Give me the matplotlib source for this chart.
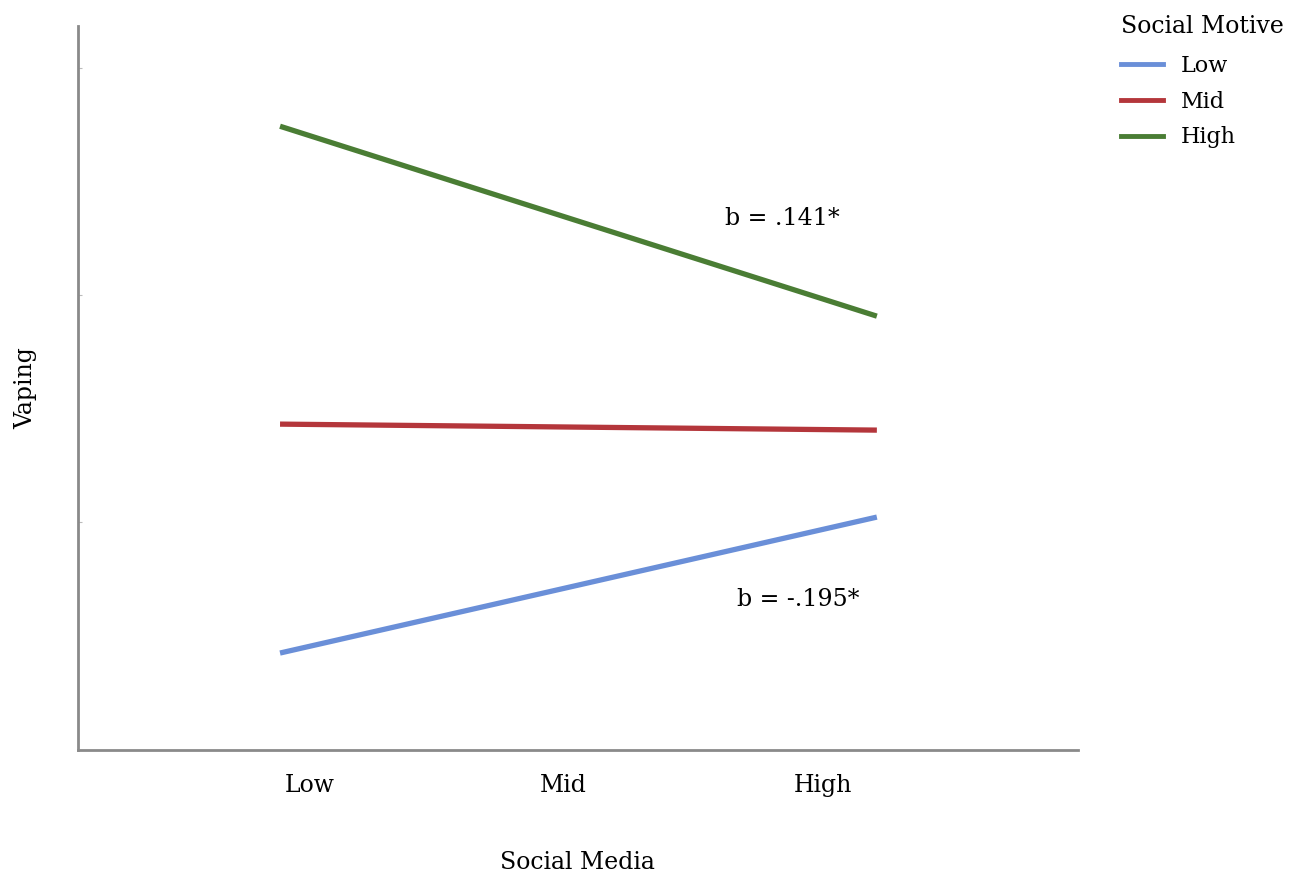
import matplotlib.pyplot as plt
from matplotlib.lines import Line2D

plt.rcParams['font.family'] = ['DejaVu Serif']

# data
motive_levels = ['Low', 'Mid', 'High']
media_x = [0, 2]  # low and high social media
vaping_low = [0.97, 2.33]
vaping_mid = [3.26, 3.20]
vaping_high = [6.24, 4.34]
colors = ['#6a8fd8', '#b4363b', '#4a7d34']

tick_pos = [0.10, 0.95, 1.82]
tick_labels = ['Low', 'Mid', 'High']

fig = plt.figure(figsize=(13, 8.73), dpi=100)
ax = fig.add_axes([0.06, 0.1409, 0.769, 0.829])

for ys, c in zip([vaping_low, vaping_mid, vaping_high], colors):
    ax.plot(media_x, ys, color=c, lw=3.8, solid_capstyle='butt')

ax.set_xlim(-0.677, 2.673)
ax.set_ylim(0, 7.24)

for s in ['top', 'right']:
    ax.spines[s].set_visible(False)
for s in ['left', 'bottom']:
    ax.spines[s].set_color('#8a8a8a')
    ax.spines[s].set_linewidth(2)

ax.set_xticks(tick_pos)
ax.set_xticklabels(tick_labels, fontsize=17)
ax.tick_params(axis='x', length=0, pad=17)
ax.set_yticks([2.28, 4.55, 6.82])
ax.set_yticklabels([])
ax.tick_params(axis='y', length=3, direction='in', color='#bbbbbb')

ax.set_xlabel('Social Media', fontsize=17, labelpad=39)
ax.set_ylabel('Vaping', fontsize=17, labelpad=26)

ax.text(1.49, 5.25, 'b = .141*', fontsize=17)
ax.text(1.53, 1.44, 'b = -.195*', fontsize=17)

handles = [Line2D([0], [0], color=c, lw=3.5) for c in colors]
leg = fig.legend(handles, motive_levels, title='Social Motive',
                 loc='upper left', bbox_to_anchor=(0.852, 0.998),
                 frameon=False, fontsize=16, title_fontsize=17,
                 handlelength=1.9, labelspacing=0.62, borderaxespad=0.2)
leg._legend_box.align = 'left'
leg._legend_box.sep = 12

fig.savefig('out.png', dpi=100)
